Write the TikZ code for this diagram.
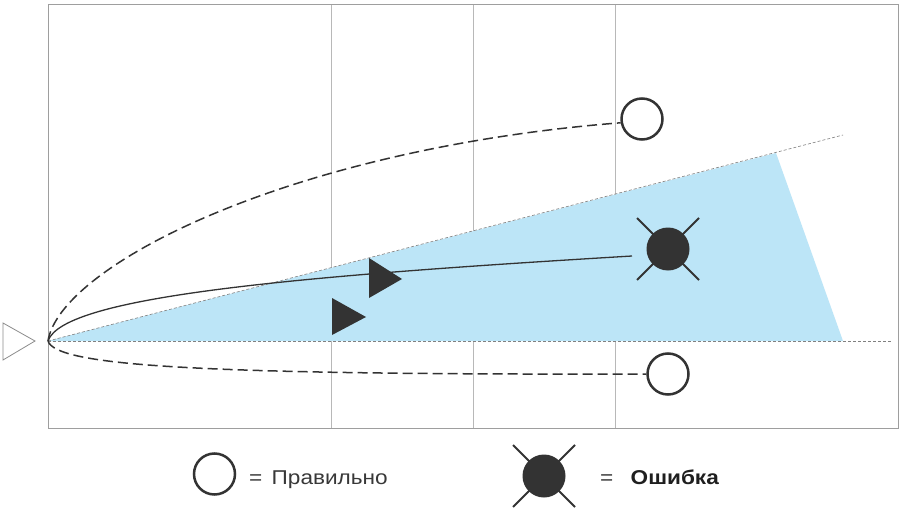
\documentclass[tikz,border=0pt]{standalone}
\usepackage{fontspec}
\setmainfont{Liberation Sans}
\newfontfamily\legfont[FakeStretch=1.13]{Liberation Sans}
\begin{document}
\begin{tikzpicture}[x=1pt,y=-1pt,
  gridline/.style={draw=black!28, line width=1pt},
  framebox/.style={draw=black!38, line width=1pt},
  refline/.style={draw=black!50, line width=0.6pt, dash pattern=on 3pt off 2pt},
  pathdash/.style={draw=black!80, line width=1.5pt, dash pattern=on 10pt off 5pt},
  pathsolid/.style={draw=black!80, line width=1.3pt},
  okmark/.style={circle, draw=black!80, line width=2.5pt, minimum size=41pt, inner sep=0pt},
  errmark/.style={circle, fill=black!80, minimum size=43pt, inner sep=0pt},
  crossline/.style={draw=black!80, line width=2pt},
  legtext/.style={font=\legfont\fontsize{20}{24}\selectfont, inner sep=0pt, text=black!78}
]
\definecolor{zone}{RGB}{188,229,247}
\useasboundingbox (0,0) rectangle (902,516);
\fill[white] (0,0) rectangle (902,516);

% grid
\draw[gridline] (331,5) -- (331,428);
\draw[gridline] (473,5) -- (473,428);
\draw[gridline] (615,5) -- (615,428);
\draw[framebox] (48,5) rectangle (898,428);

% blue zone
\coordinate (o) at (48,341);
\coordinate (zt) at (776,153);
\coordinate (zb) at (843,341);
\fill[zone] (o) -- (zt) -- (zb) -- cycle;
\coordinate (ue) at (843,135);
\coordinate (le) at (891,341);
\draw[refline] (o) -- (ue);
\draw[refline] (o) -- (le);

% left marker
\draw[draw=black!45, line width=0.8pt] (3,323) -- (35,341) -- (3,360) -- cycle;

% targets
\node[okmark] (c1) at (642,119) {};
\node[okmark] (c2) at (668,374) {};
\draw[crossline] (637,218) -- (699,280);
\draw[crossline] (699,218) -- (637,280);
\node[errmark] (e1) at (668,249) {};
\coordinate (se) at (632,256);

% trajectories
\draw[pathdash] (o) .. controls (60,266) and (288,149) .. (c1.190);
\draw[pathsolid] (o) .. controls (63,296) and (298,276) .. (se);
\draw[pathdash] (o) .. controls (56,366) and (198,375) .. (c2.west);

% projectiles
\fill[black!80] (369,258) -- (402,279) -- (369,298) -- cycle;
\fill[black!80] (332,298) -- (366,317) -- (332,335) -- cycle;

% legend
\node[okmark] (l1) at (214.5,474) {};
\node[legtext, anchor=base west] (eq1) at (249,484) {=};
\node[legtext, anchor=base west] (t1) at (271.5,484) {Правильно};
\draw[crossline] (513,445) -- (575,507);
\draw[crossline] (575,445) -- (513,507);
\node[errmark] (l2) at (544,476) {};
\node[legtext, anchor=base west] (eq2) at (600,484) {=};
\node[legtext, anchor=base west, font=\legfont\fontsize{20}{24}\selectfont\bfseries, text=black!88] (t2) at (630.5,484) {Ошибка};
\end{tikzpicture}
\end{document}
